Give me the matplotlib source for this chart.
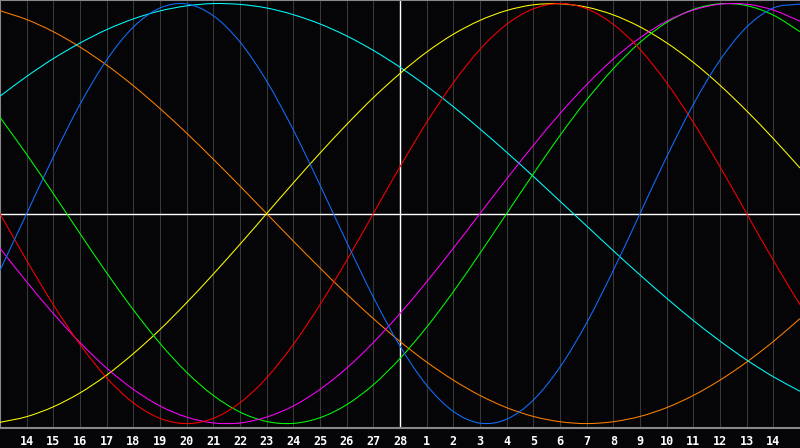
import matplotlib
matplotlib.use("Agg")
import matplotlib.pyplot as plt
from matplotlib.path import Path
from matplotlib.patches import PathPatch

# one value per day (day 13 of the first month ... day 15 of the next)
days = list(range(31))
day_labels = [str(d) for d in range(14, 29)] + [str(d) for d in range(1, 15)]

blue = [-0.270, 0.000, 0.270, 0.520, 0.731, 0.888, 0.979, 0.998, 0.942, 0.817, 0.631, 0.398, 0.136, -0.136, -0.398, -0.631,
        -0.817, -0.942, -0.998, -0.979, -0.888, -0.731, -0.520, -0.270, 0.000, 0.270, 0.520, 0.731, 0.888, 0.979, 0.998]
red = [0.000, -0.223, -0.434, -0.623, -0.782, -0.901, -0.975, -1.000, -0.975, -0.901, -0.782, -0.623, -0.434, -0.223, 0.000, 0.223,
       0.434, 0.623, 0.782, 0.901, 0.975, 1.000, 0.975, 0.901, 0.782, 0.623, 0.434, 0.223, 0.000, -0.223, -0.434]
green = [0.458, 0.282, 0.095, -0.095, -0.282, -0.458, -0.618, -0.756, -0.866, -0.945, -0.990, -0.999, -0.972, -0.910, -0.815, -0.690,
         -0.541, -0.372, -0.189, 0.000, 0.189, 0.372, 0.541, 0.690, 0.815, 0.910, 0.972, 0.999, 0.990, 0.945, 0.866]
magenta = [-0.165, -0.325, -0.476, -0.614, -0.736, -0.837, -0.916, -0.969, -0.997, -0.997, -0.969, -0.916, -0.837, -0.736, -0.614, -0.476,
           -0.325, -0.165, 0.000, 0.165, 0.325, 0.476, 0.614, 0.736, 0.837, 0.916, 0.969, 0.997, 0.997, 0.969, 0.916]
yellow = [-0.994, -0.967, -0.920, -0.854, -0.769, -0.667, -0.552, -0.424, -0.288, -0.146, 0.000, 0.146, 0.288, 0.424, 0.552, 0.667,
          0.769, 0.854, 0.920, 0.967, 0.994, 0.999, 0.983, 0.946, 0.889, 0.813, 0.720, 0.611, 0.489, 0.357, 0.217]
orange = [0.966, 0.924, 0.866, 0.793, 0.707, 0.609, 0.500, 0.383, 0.259, 0.131, 0.000, -0.131, -0.259, -0.383, -0.500, -0.609,
          -0.707, -0.793, -0.866, -0.924, -0.966, -0.991, -1.000, -0.991, -0.966, -0.924, -0.866, -0.793, -0.707, -0.609, -0.500]
cyan = [0.559, 0.653, 0.738, 0.812, 0.876, 0.927, 0.965, 0.989, 1.000, 0.996, 0.979, 0.947, 0.903, 0.846, 0.777, 0.697,
        0.607, 0.509, 0.403, 0.292, 0.177, 0.059, -0.059, -0.177, -0.292, -0.403, -0.509, -0.607, -0.697, -0.777, -0.846]


def smooth_line(ax, xs, ys, color):
    # draw a smooth curve through the daily points (Catmull-Rom as bezier segments)
    pts = list(zip(xs, ys))
    first = (2 * pts[0][0] - pts[1][0], 2 * pts[0][1] - pts[1][1])
    last = (2 * pts[-1][0] - pts[-2][0], 2 * pts[-1][1] - pts[-2][1])
    ext = [first] + pts + [last]
    verts = [pts[0]]
    codes = [Path.MOVETO]
    for i in range(1, len(ext) - 2):
        p0, p1, p2, p3 = ext[i - 1], ext[i], ext[i + 1], ext[i + 2]
        c1 = (p1[0] + (p2[0] - p0[0]) / 6, p1[1] + (p2[1] - p0[1]) / 6)
        c2 = (p2[0] - (p3[0] - p1[0]) / 6, p2[1] - (p3[1] - p1[1]) / 6)
        verts += [c1, c2, p2]
        codes += [Path.CURVE4] * 3
    ax.add_patch(PathPatch(Path(verts, codes), facecolor='none', edgecolor=color, lw=0.75, zorder=3))


bg = '#050508'
fig = plt.figure(figsize=(8, 4.48), dpi=100, facecolor=bg)
ax = fig.add_axes([0, 20 / 448, 1, 428 / 448])
ax.set_facecolor(bg)

# day grid
for i in range(1, 30):
    ax.axvline(i, color='#383838', lw=0.8, zorder=1)
ax.axvline(15, color='white', lw=1.0, zorder=2)
ax.axhline(0, color='white', lw=1.0, zorder=2)

smooth_line(ax, days, orange, '#ff8000')
smooth_line(ax, days, cyan, '#00ffff')
smooth_line(ax, days, yellow, '#ffff00')
smooth_line(ax, days, green, '#00ff00')
smooth_line(ax, days, magenta, '#ff00ff')
smooth_line(ax, days, red, '#ff0000')
smooth_line(ax, days, blue, '#1070ff')

ax.set_xlim(0, 30)
ax.set_ylim(-1.021, 1.017)
ax.set_yticks([])
ax.set_xticks(range(1, 30))
ax.set_xticklabels(day_labels, color='white', fontsize=8.5, fontweight='bold', family='DejaVu Sans Mono')
ax.tick_params(axis='x', length=0, pad=5)

for side in ['left', 'top', 'bottom']:
    ax.spines[side].set_color('#888888')
    ax.spines[side].set_linewidth(1.5)
ax.spines['right'].set_visible(False)

fig.savefig('out.png', dpi=100, facecolor=bg)
